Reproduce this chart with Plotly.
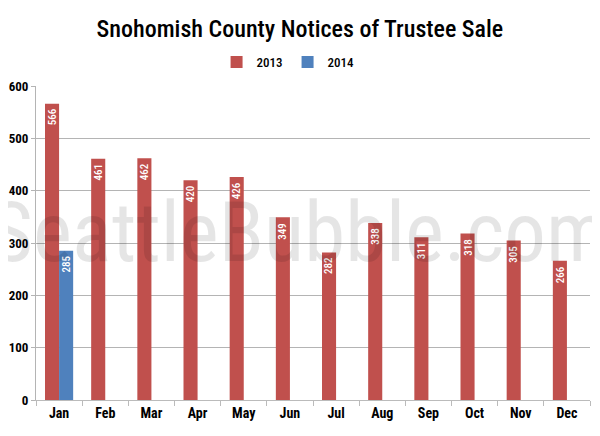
import plotly.graph_objects as go

months = ["Jan", "Feb", "Mar", "Apr", "May", "Jun", "Jul", "Aug", "Sep", "Oct", "Nov", "Dec"]
values_2013 = [566, 461, 462, 420, 426, 349, 282, 338, 311, 318, 305, 266]
values_2014 = [285, None, None, None, None, None, None, None, None, None, None, None]
y_ticks = [0, 100, 200, 300, 400, 500, 600]

FONT = "Roboto Condensed, Liberation Sans Narrow, DejaVu Sans Condensed, Roboto, sans-serif"
RED = "#c0504d"
BLUE = "#4f81bd"

fig = go.Figure()
fig.add_trace(go.Bar(name="2013", x=months, y=values_2013, marker_color=RED,
                     marker_line_width=0))
fig.add_trace(go.Bar(name="2014", x=months, y=values_2014, marker_color=BLUE,
                     marker_line_width=0))

# value labels inside bar tops (rotated)
for series, shift in ((values_2013, -7), (values_2014, 7)):
    for m, v in zip(months, series):
        if v is None:
            continue
        fig.add_annotation(
            x=m, y=v, xref="x", yref="y", text=str(v), showarrow=False,
            textangle=-90, xanchor="center", yanchor="top", xshift=shift, yshift=-3,
            font=dict(family=FONT, size=11, color="white", weight=500),
        )

fig.add_annotation(
    text="SeattleBubble.com", xref="paper", yref="paper", x=0.475, y=0.535,
    xanchor="center", yanchor="middle", showarrow=False,
    font=dict(family=FONT, size=83, color="rgba(0,0,0,0.10)"),
)

fig.update_layout(
    width=592, height=428,
    margin=dict(l=28, r=10, t=78, b=36, autoexpand=False),
    paper_bgcolor="white", plot_bgcolor="white",
    barmode="group", bargap=0.39, bargroupgap=0,
    title=dict(text="Snohomish County Notices of Trustee Sale", x=0.493, xanchor="center",
               y=0.953, yanchor="middle",
               font=dict(family=FONT, size=24, color="black", weight=500)),
    legend=dict(orientation="h", x=0.455, xanchor="center", y=1.076, yanchor="middle",
                font=dict(family=FONT, size=13, color="black", weight=500),
                traceorder="normal", itemwidth=30),
    font=dict(family=FONT, color="black"),
)
fig.update_xaxes(
    type="category", showgrid=False, showline=True, linecolor="#bbbbbb", linewidth=1,
    ticks="outside", tickson="boundaries", ticklen=5, tickcolor="#bbbbbb",
    tickfont=dict(family=FONT, size=14, color="black", weight="bold"),
)
fig.update_yaxes(
    range=[0, 600], tickvals=y_ticks, showgrid=True, gridcolor="#b4b4b4", gridwidth=1,
    showline=True, linecolor="#b4b4b4", ticks="outside", ticklen=4, tickcolor="#b4b4b4",
    tickfont=dict(family=FONT, size=13, color="black", weight="bold"), zeroline=False,
)

fig.write_html("out.html")
